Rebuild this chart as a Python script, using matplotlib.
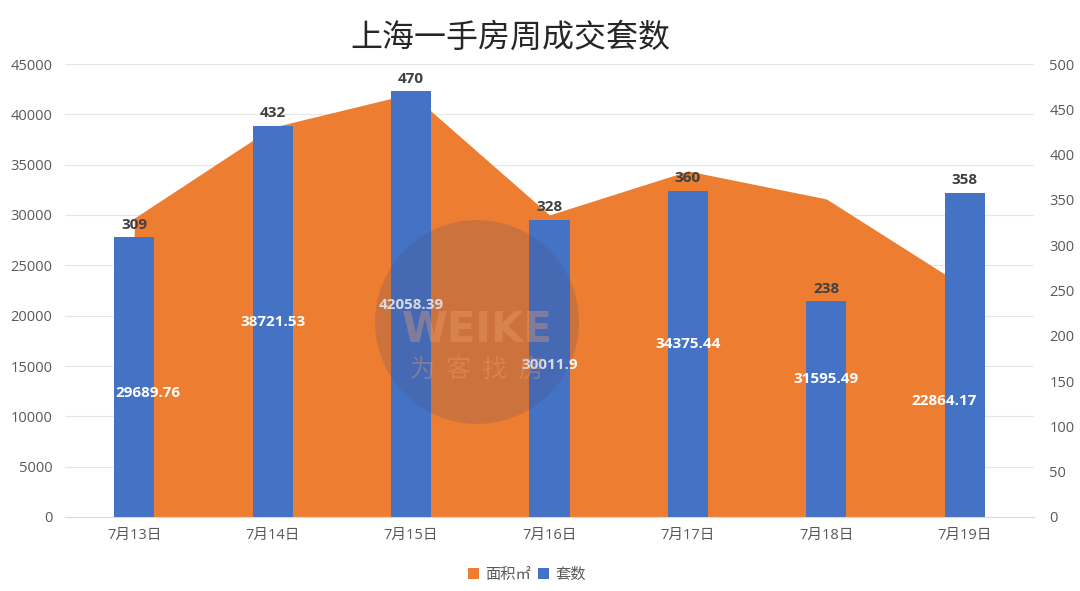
import matplotlib
matplotlib.use("Agg")
import matplotlib.pyplot as plt
from matplotlib.patches import Circle
import numpy as np

plt.rcParams['font.family'] = ['Open Sans', 'Noto Sans CJK SC', 'DejaVu Sans']

categories = ["7月13日", "7月14日", "7月15日", "7月16日", "7月17日", "7月18日", "7月19日"]
area_values = [29689.76, 38721.53, 42058.39, 30011.9, 34375.44, 31595.49, 22864.17]
area_texts = ["29689.76", "38721.53", "42058.39", "30011.9", "34375.44", "31595.49", "22864.17"]
unit_counts = [309, 432, 470, 328, 360, 238, 358]
area_label_pos = [12300, 19400, 21100, 15100, 17200, 13700, 11500]
area_label_dx = [0.10, 0, 0, 0, 0, 0, -0.15]

ORANGE = "#ED7D31"
BLUE = "#4472C4"
TXT = "#595959"

fig = plt.figure(figsize=(10.8, 5.91), dpi=100)
ax = fig.add_axes([65/1080, 1-517/591, (1034-65)/1080, (517-64)/591])
ax2 = ax.twinx()

x = np.arange(len(categories))
ax.fill_between(x, 0, area_values, color=ORANGE, linewidth=0, zorder=2, label="面积㎡")
ax.set_xlim(-0.5, len(categories)-0.5)
ax.set_ylim(0, 45000)
ax.set_yticks(np.arange(0, 45001, 5000))
ax.grid(axis='y', color="#E6E6E6", linewidth=0.8, zorder=0)
ax.set_axisbelow(True)

bars = ax2.bar(x, unit_counts, width=0.29, color=BLUE, zorder=3, label="套数")
ax2.set_ylim(0, 500)
ax2.set_yticks(np.arange(0, 501, 50))

for a in (ax, ax2):
    for s in ("top", "left", "right"):
        a.spines[s].set_visible(False)
    a.spines["bottom"].set_color("#D9D9D9")
    a.tick_params(axis='both', length=0, labelsize=10.5, colors=TXT)

ax.set_xticks(x)
ax.set_xticklabels(categories)
ax.tick_params(axis='x', pad=8)
ax.tick_params(axis='y', pad=9)
ax2.tick_params(axis='y', pad=11)

for xi, v in zip(x, unit_counts):
    ax2.text(xi, v + 6, str(v), ha='center', va='bottom', fontsize=11,
             fontweight='bold', color="#404040", zorder=6)

for xi, t, yp, dx in zip(x, area_texts, area_label_pos, area_label_dx):
    ax2.text(xi + dx, yp, t, ha='center', va='center', fontsize=11,
             fontweight='bold', color='white', zorder=7,
             transform=ax.transData)

# watermark
cx, cy = 477/1080, 1-322/591
circ = Circle((cx*1080, cy*591), 102, transform=None, facecolor="#4a4a70",
              alpha=0.2, edgecolor='none', zorder=10)
fig.patches.append(circ)
fig.text(cx, 1-330/591, "WEIKE", ha='center', va='center', fontsize=30, fontweight='bold',
         color="#f0a070", alpha=0.35, zorder=11, family=['DejaVu Sans'])
fig.text(cx, 1-370/591, "为  客  找  房", ha='center', va='center', fontsize=18,
         color="#f0a070", alpha=0.35, zorder=11, family=['Noto Sans CJK SC'])

fig.suptitle("上海一手房周成交套数", x=510/1080, y=1-38/591, va='center',
             fontsize=23, color="#262626", family=['Noto Sans CJK SC'])

h1, l1 = ax.get_legend_handles_labels()
h2, l2 = ax2.get_legend_handles_labels()
fig.legend(h1 + h2, l1 + l2, loc='center', bbox_to_anchor=(527/1080, 1-575/591),
           ncol=2, frameon=False, fontsize=11, labelcolor=TXT,
           handlelength=0.7, handleheight=0.7, handletextpad=0.4, columnspacing=0.5)

fig.savefig("out.png", dpi=100)
